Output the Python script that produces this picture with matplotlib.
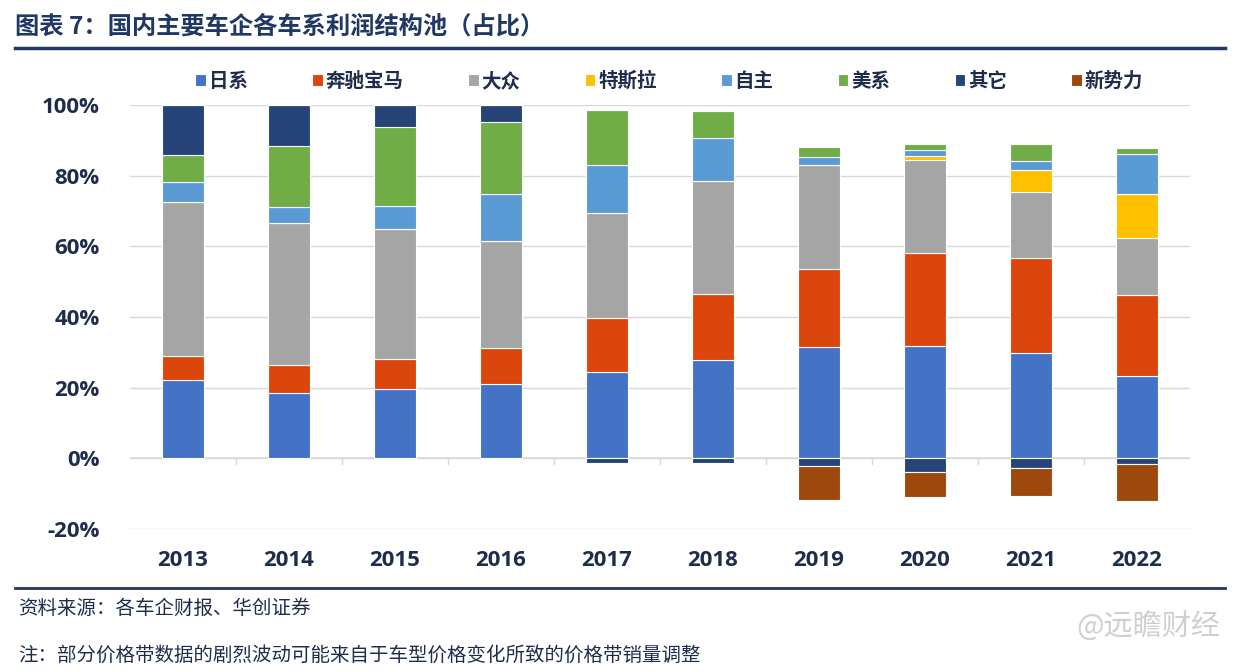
import numpy as np
import matplotlib
matplotlib.use("Agg")
import matplotlib.pyplot as plt

plt.rcParams['font.family'] = ['Noto Sans CJK SC', 'DejaVu Sans']

years = ['2013', '2014', '2015', '2016', '2017', '2018', '2019', '2020', '2021', '2022']

# 利润占比 (%), 读图估计
japan = [22.1, 18.5, 19.5, 20.9, 24.3, 27.9, 31.6, 31.9, 29.9, 23.3]
benz_bmw = [6.8, 8.0, 8.7, 10.2, 15.5, 18.6, 22.0, 26.3, 26.8, 23.0]
vw = [43.7, 40.2, 36.7, 30.4, 29.5, 32.1, 29.3, 26.2, 18.7, 16.2]
tesla = [0, 0, 0, 0, 0, 0, 0, 1.2, 6.2, 12.3]
domestic = [5.5, 4.5, 6.5, 13.2, 13.6, 12.0, 2.3, 1.7, 2.6, 11.3]
us = [7.7, 17.3, 22.5, 20.6, 15.7, 7.7, 2.8, 1.7, 4.9, 1.7]
other = [14.2, 11.5, 6.1, 4.7, -1.2, -1.4, -2.2, -4.0, -2.6, -1.6]
new_force = [0, 0, 0, 0, 0, 0, -9.5, -6.9, -8.1, -10.4]

series_names = ['日系', '奔驰宝马', '大众', '特斯拉', '自主', '美系', '其它', '新势力']
series_vals = [japan, benz_bmw, vw, tesla, domestic, us, other, new_force]
colors = ['#4472C4', '#DA460C', '#A5A5A5', '#FFC000', '#5B9BD5', '#70AD47', '#264478', '#9E480E']

navy = '#1F3864'
label_col = '#1F2D4D'

fig = plt.figure(figsize=(12.42, 6.72), dpi=100)
ax = fig.add_axes([130 / 1242, 1 - 529 / 672, 1060 / 1242, 424 / 672])

x = np.arange(len(years))
pos_bottom = np.zeros(len(years))
neg_bottom = np.zeros(len(years))
for name, vals, c in zip(series_names, series_vals, colors):
    v = np.array(vals, dtype=float)
    bottom = np.where(v >= 0, pos_bottom, neg_bottom)
    ax.bar(x, v, 0.4, bottom=bottom, color=c, edgecolor='white', linewidth=0.8,
           label=name, zorder=3)
    pos_bottom += np.where(v > 0, v, 0)
    neg_bottom += np.where(v < 0, v, 0)

ax.set_xlim(-0.5, len(years) - 0.5)
ax.set_ylim(-20, 100)
ax.set_yticks(np.arange(-20, 101, 20))
ax.set_yticklabels([f'{t}%' for t in range(-20, 101, 20)])
ax.grid(axis='y', color='#D9D9D9', linewidth=1, zorder=0)
ax.axhline(0, color='#D9D9D9', linewidth=1.2, zorder=2)
for s in ax.spines.values():
    s.set_visible(False)

ax.set_xticks(x)
ax.set_xticklabels(years)
ax.tick_params(axis='x', length=0, pad=15)
ax.tick_params(axis='y', length=0, pad=22)
# 类别之间的小刻度
for xt in np.arange(0.5, len(years) - 0.5, 1):
    ax.plot([xt, xt], [0, -1.5], color='#D9D9D9', linewidth=1, zorder=2)

for lab in ax.get_xticklabels() + ax.get_yticklabels():
    lab.set_fontfamily(['Open Sans', 'DejaVu Sans'])
    lab.set_fontweight('bold')
    lab.set_fontsize(16)
    lab.set_color(label_col)

leg = fig.legend(loc='center', bbox_to_anchor=(0.539, 1 - 81 / 672), ncol=8, frameon=False,
                 handlelength=0.55, handleheight=0.55, handletextpad=0.15, columnspacing=3.3,
                 prop={'family': ['Noto Sans CJK SC', 'DejaVu Sans'], 'weight': 'bold', 'size': 14})
for t in leg.get_texts():
    t.set_color(label_col)

# 标题与分隔线
fig.text(15 / 1242, 1 - 27 / 672, '图表 7：国内主要车企各车系利润结构池（占比）', fontsize=17.5,
         fontweight='bold', color=navy, va='center', ha='left')
fig.add_artist(plt.Line2D([15 / 1242, 1225 / 1242], [1 - 48 / 672, 1 - 48 / 672],
                          color=navy, linewidth=2.5))
fig.add_artist(plt.Line2D([15 / 1242, 1225 / 1242], [1 - 588 / 672, 1 - 588 / 672],
                          color=navy, linewidth=2))

fig.text(18 / 1242, 1 - 608 / 672, '资料来源：各车企财报、华创证券', fontsize=14,
         color=label_col, va='center', ha='left')
fig.text(18 / 1242, 1 - 655 / 672, '注：部分价格带数据的剧烈波动可能来自于车型价格变化所致的价格带销量调整',
         fontsize=14, color=label_col, va='center', ha='left')
fig.text(1220 / 1242, 1 - 628 / 672, '@远瞻财经', fontsize=21, color='#D0D0D0',
         va='center', ha='right')

fig.savefig('out.png', dpi=100)
